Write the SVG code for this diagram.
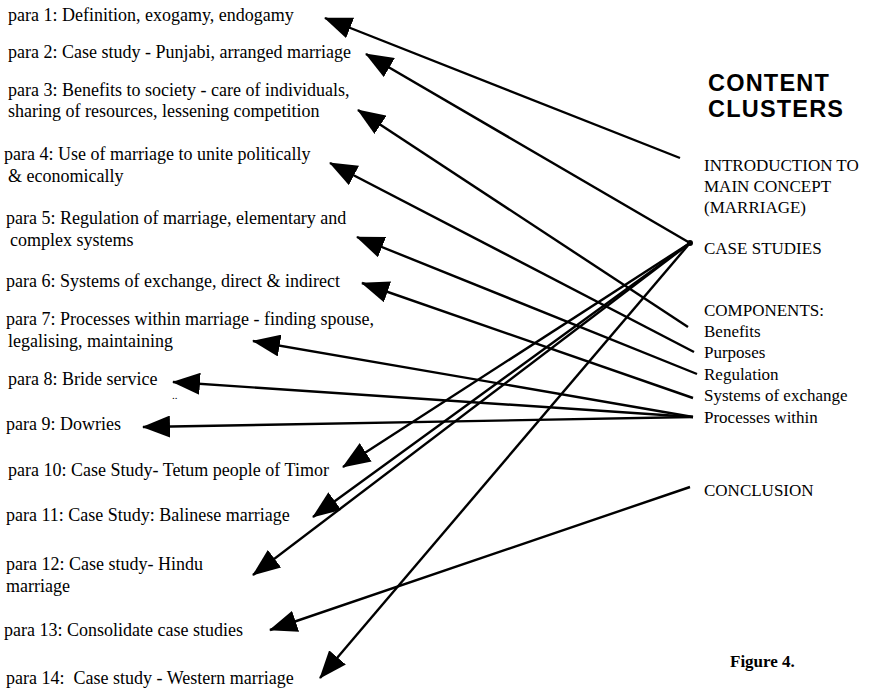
<svg xmlns="http://www.w3.org/2000/svg" width="871" height="689" viewBox="0 0 871 689">
<defs>
<style>
.t{font-family:"Liberation Serif","Times New Roman",serif;font-size:18px;fill:#000}
.r{font-family:"Liberation Serif","Times New Roman",serif;font-size:17px;fill:#000}
.h{font-family:"Liberation Sans",Arial,sans-serif;font-size:23.5px;font-weight:bold;letter-spacing:1.2px;fill:#000}
.f{font-family:"Liberation Serif","Times New Roman",serif;font-size:17px;font-weight:bold;fill:#000}
.c line{stroke:#000;stroke-width:2.4;fill:none;marker-end:url(#ah)}
</style>
<marker id="ah" markerUnits="userSpaceOnUse" markerWidth="28" markerHeight="22" viewBox="0 0 28 22" refX="27" refY="11" orient="auto">
<path d="M0,0 L28,11 L0,22 z" fill="#000"/>
</marker>
</defs>
<rect width="871" height="689" fill="#fff"/>
<g id="para1"><text class="t" x="8" y="21">para 1: Definition, exogamy, endogamy</text></g>
<g id="para2"><text class="t" x="8" y="58">para 2: Case study - Punjabi, arranged marriage</text></g>
<g id="para3"><text class="t" x="8" y="96">para 3: Benefits to society - care of individuals,</text><text class="t" x="8" y="117">sharing of resources, lessening competition</text></g>
<g id="para4"><text class="t" x="4" y="160">para 4: Use of marriage to unite politically</text><text class="t" x="8" y="182">&amp; economically</text></g>
<g id="para5"><text class="t" x="6" y="224">para 5: Regulation of marriage, elementary and</text><text class="t" x="10" y="246">complex systems</text></g>
<g id="para6"><text class="t" x="6" y="287">para 6: Systems of exchange, direct &amp; indirect</text></g>
<g id="para7"><text class="t" x="6" y="325">para 7: Processes within marriage - finding spouse,</text><text class="t" x="8" y="347">legalising, maintaining</text></g>
<g id="para8"><text class="t" x="8" y="385">para 8: Bride service</text><text class="t" x="172" y="399" style="font-size:11px">..</text></g>
<g id="para9"><text class="t" x="6" y="430">para 9: Dowries</text></g>
<g id="para10"><text class="t" x="8" y="476">para 10: Case Study- Tetum people of Timor</text></g>
<g id="para11"><text class="t" x="6" y="521">para 11: Case Study: Balinese marriage</text></g>
<g id="para12"><text class="t" x="6" y="570">para 12: Case study- Hindu</text><text class="t" x="6" y="592">marriage</text></g>
<g id="para13"><text class="t" x="4" y="636">para 13: Consolidate case studies</text></g>
<g id="para14"><text class="t" x="6" y="684">para 14:&#160; Case study - Western marriage</text></g>
<g id="title"><text class="h" x="708" y="91">CONTENT</text><text class="h" x="708" y="117">CLUSTERS</text></g>
<g id="intro"><text class="r" x="704" y="171">INTRODUCTION TO</text><text class="r" x="704" y="192">MAIN CONCEPT</text><text class="r" x="704" y="213">(MARRIAGE)</text></g>
<g id="casestudies"><text class="r" x="704" y="254">CASE STUDIES</text><circle cx="690" cy="243" r="3" fill="#000"/></g>
<g id="components"><text class="r" x="704" y="316">COMPONENTS:</text><text class="r" x="704" y="337">Benefits</text><text class="r" x="704" y="358">Purposes</text><text class="r" x="704" y="380">Regulation</text><text class="r" x="704" y="401">Systems of exchange</text><text class="r" x="704" y="423">Processes within</text></g>
<g id="conclusion"><text class="r" x="704" y="496">CONCLUSION</text></g>
<g id="figure"><text class="f" x="730" y="667">Figure 4.</text></g>
<g class="c" id="connectors">
<line x1="680" y1="158" x2="325" y2="18"/>
<line x1="690" y1="243" x2="366" y2="54"/>
<line x1="688" y1="327" x2="358" y2="110"/>
<line x1="694" y1="352" x2="330" y2="163"/>
<line x1="697" y1="374" x2="357" y2="237"/>
<line x1="693" y1="398" x2="362" y2="283"/>
<line x1="693" y1="417" x2="253" y2="341"/>
<line x1="693" y1="417" x2="173" y2="382"/>
<line x1="693" y1="417" x2="143" y2="427"/>
<line x1="690" y1="243" x2="343" y2="467"/>
<line x1="690" y1="243" x2="313" y2="517"/>
<line x1="690" y1="243" x2="253" y2="575"/>
<line x1="690" y1="487" x2="270" y2="630"/>
<line x1="690" y1="243" x2="320" y2="678"/>
</g>
</svg>
